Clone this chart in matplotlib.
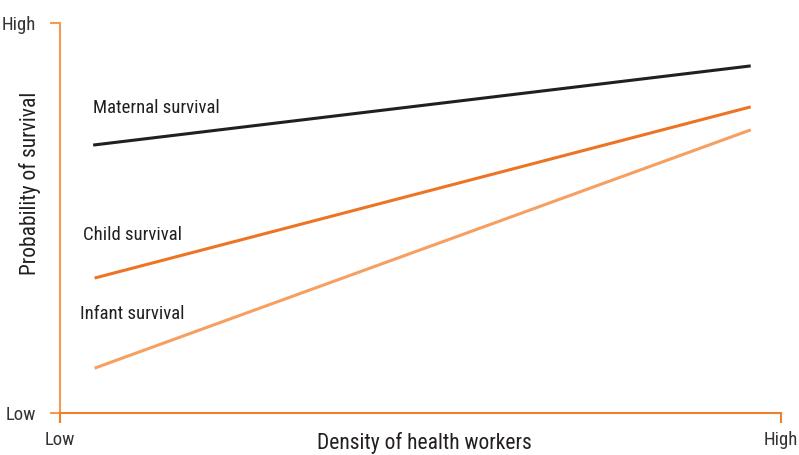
import matplotlib
matplotlib.use("Agg")
from matplotlib import pyplot as plt

plt.rcParams['font.family'] = ['Roboto Condensed', 'DejaVu Sans']

# relative positions on Low..High scales
series = ["Maternal survival", "Child survival", "Infant survival"]
x_start = [0.046, 0.048, 0.048]
x_end = [0.958, 0.958, 0.958]
y_start = [0.687, 0.346, 0.115]
y_end = [0.890, 0.785, 0.726]
colors = ['#231f20', '#ec7424', '#f5a060']
label_pos = [(0.046, 0.783), (0.032, 0.456), (0.028, 0.254)]

tick_labels = ["Low", "High"]

fig = plt.figure(figsize=(7.99, 4.55), dpi=100)
ax = fig.add_axes([60 / 799, 42 / 455, 721 / 799, 390 / 455])

for i in range(len(series)):
    ax.plot([x_start[i], x_end[i]], [y_start[i], y_end[i]], color=colors[i], lw=2.2,
            solid_capstyle='butt')
    ax.text(label_pos[i][0], label_pos[i][1], series[i], fontsize=13.5,
            color='#231f20', va='center', ha='left')

ax.set_xlim(0, 1)
ax.set_ylim(0, 1)
ax.set_xticks([0, 1])
ax.set_yticks([0, 1])
ax.set_xticklabels(tick_labels, fontsize=13.5, color='#333333')
ax.set_yticklabels(tick_labels, fontsize=13.5, color='#333333')
ax.tick_params(axis='both', length=7, width=1.5, direction='out')
ax.tick_params(axis='x', colors='#f07f2a', labelcolor='#333333', pad=6)
ax.tick_params(axis='y', colors='#f59a56', labelcolor='#333333', pad=10)

for s in ['top', 'right']:
    ax.spines[s].set_visible(False)
ax.spines['left'].set_color('#f59a56')
ax.spines['bottom'].set_color('#f07f2a')
ax.spines['left'].set_linewidth(1.5)
ax.spines['bottom'].set_linewidth(1.5)

ax.set_xlabel("Density of health workers", fontsize=15.5, color='#231f20', va='center')
ax.set_ylabel("Probability of survival", fontsize=15.5, color='#231f20', va='center')
ax.xaxis.set_label_coords(0.505, -0.078)
ax.yaxis.set_label_coords(-0.041, 0.59)

fig.savefig("out.png", dpi=100)
